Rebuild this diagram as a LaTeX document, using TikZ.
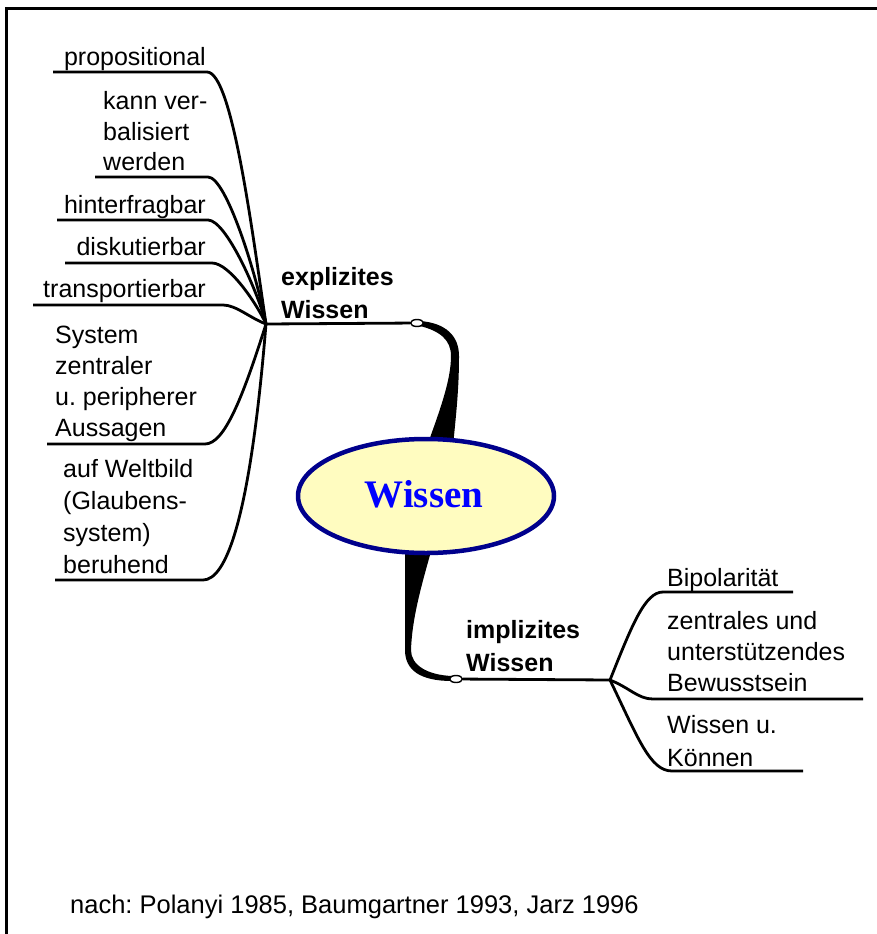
\documentclass[tikz,border=0pt]{standalone}
\usepackage{fontspec}
\newfontfamily\lsans{Liberation Sans}
\newfontfamily\lserif{Liberation Serif}
\usetikzlibrary{shapes.geometric}
\definecolor{ellfill}{RGB}{255,252,192}
\definecolor{ellline}{RGB}{0,0,140}
\definecolor{wblue}{RGB}{0,0,255}
\frenchspacing
\newcommand\mylines[1]{\begin{tabular}[t]{@{}l@{}}#1\end{tabular}}
\tikzset{
  leafw/.style={font=\lsans\fontsize{25}{31}\selectfont, anchor=base west, inner sep=0pt},
  leafe/.style={font=\lsans\fontsize{25}{31}\selectfont, anchor=base east, inner sep=0pt},
  branchlbl/.style={font=\lsans\bfseries\fontsize{25}{33}\selectfont, anchor=base west, inner sep=0pt},
  conn/.style={line width=2.8pt, line join=round},
  knob/.style={draw=black, fill=white, ellipse, line width=1.4pt, minimum width=13pt, minimum height=7pt, inner sep=0pt},
}
\begin{document}
\begin{tikzpicture}[x=1pt,y=-1pt]
\useasboundingbox (0,0) rectangle (877,934);
% frame
\draw[line width=3pt] (877,9) -- (6,9) -- (6,934);

% junctions
\coordinate (J1) at (266,324);
\coordinate (J2) at (610,680);

% left leaves: texts
\node[leafe] (t1) at (206,66) {propositional};
\node[leafw] (t2) at (103,109) {\mylines{kann ver-\\balisiert\\werden}};
\node[leafe] (t3) at (206,213) {hinterfragbar};
\node[leafe] (t4) at (206,255) {diskutierbar};
\node[leafe] (t5) at (206,297) {transportierbar};
\node[leafw] (t6) at (55,343) {\mylines{System\\zentraler\\u. peripherer\\Aussagen}};
\node[leafw, font=\lsans\fontsize{25}{32}\selectfont] (t7) at (63,477) {\mylines{auf Weltbild\\(Glaubens-\\system)\\beruhend}};

% left leaves: underline coordinates
\coordinate (s1) at (53,72);   \coordinate (e1) at (207,72);
\coordinate (s2) at (95,177);  \coordinate (e2) at (208,177);
\coordinate (s3) at (57,220);  \coordinate (e3) at (208,220);
\coordinate (s4) at (65,263);  \coordinate (e4) at (212,263);
\coordinate (s5) at (33,305);  \coordinate (e5) at (223,305);
\coordinate (s6) at (47,444);  \coordinate (e6) at (205,444);
\coordinate (s7) at (55,580);  \coordinate (e7) at (203,580);

\draw[conn] (s1) -- (e1) .. controls (232,72) and (252,230) .. (J1);
\draw[conn] (s2) -- (e2) .. controls (226,177) and (256,272) .. (J1);
\draw[conn] (s3) -- (e3) .. controls (226,220) and (258,292) .. (J1);
\draw[conn] (s4) -- (e4) .. controls (230,263) and (258,306) .. (J1);
\draw[conn] (s5) -- (e5) .. controls (236,305) and (250,318) .. (J1);
\draw[conn] (s6) -- (e6) .. controls (224,444) and (242,400) .. (J1);
\draw[conn] (s7) -- (e7) .. controls (226,580) and (250,520) .. (J1);

% right leaves
\node[leafw] (r1) at (667,586) {Bipolarität};
\node[leafw] (r2) at (667,629) {\mylines{zentrales und\\unterstützendes\\Bewusstsein}};
\node[leafw, font=\lsans\fontsize{25}{33}\selectfont] (r3) at (667,733) {\mylines{Wissen u.\\Können}};

\coordinate (ra) at (663,592); \coordinate (rae) at (793,592);
\coordinate (rb) at (653,699); \coordinate (rbe) at (863,699);
\coordinate (rc) at (672,771); \coordinate (rce) at (803,771);

\draw[conn] (J2) .. controls (632,625) and (645,592) .. (ra) -- (rae);
\draw[conn] (J2) .. controls (630,688) and (638,699) .. (rb) -- (rbe);
\draw[conn] (J2) .. controls (638,738) and (650,771) .. (rc) -- (rce);

% branch labels
\node[branchlbl] (lx) at (281,285) {\mylines{explizites\\Wissen}};
\node[branchlbl] (li) at (466,638) {\mylines{implizites\\Wissen}};

% thick tapered branches
\fill[black] (427,446) .. controls (440,410) and (451,380) .. (451,356)
  .. controls (451,340) and (440,331) .. (420,326) -- (420,321)
  .. controls (446,323) and (459,336) .. (459,356)
  .. controls (459,390) and (456,415) .. (453,446) -- cycle;
\fill[black] (405,548) -- (405,650)
  .. controls (405,670) and (420,681) .. (452,681) -- (452,676)
  .. controls (427,675) and (411,665) .. (411,650)
  .. controls (412,620) and (420,590) .. (432,548) -- cycle;

% knobs
\node[knob] (kx) at (417,323) {};
\node[knob] (ki) at (456,679) {};
\draw[conn] (kx) -- (J1);
\draw[conn] (ki) -- (J2);

% central ellipse
\node[ellipse, draw=ellline, fill=ellfill, line width=4.5pt, minimum width=256pt, minimum height=114pt, inner sep=0pt] (W) at (426,496) {};
\node[font=\lserif\bfseries\fontsize{39}{40}\selectfont, text=wblue, anchor=base, inner sep=0pt] (Wt) at (424,507) {Wissen};

% footer
\node[font=\lsans\fontsize{25.5}{30}\selectfont, anchor=base west, inner sep=0pt] (foot) at (70,913) {nach: Polanyi 1985, Baumgartner 1993, Jarz 1996};
\end{tikzpicture}
\end{document}
